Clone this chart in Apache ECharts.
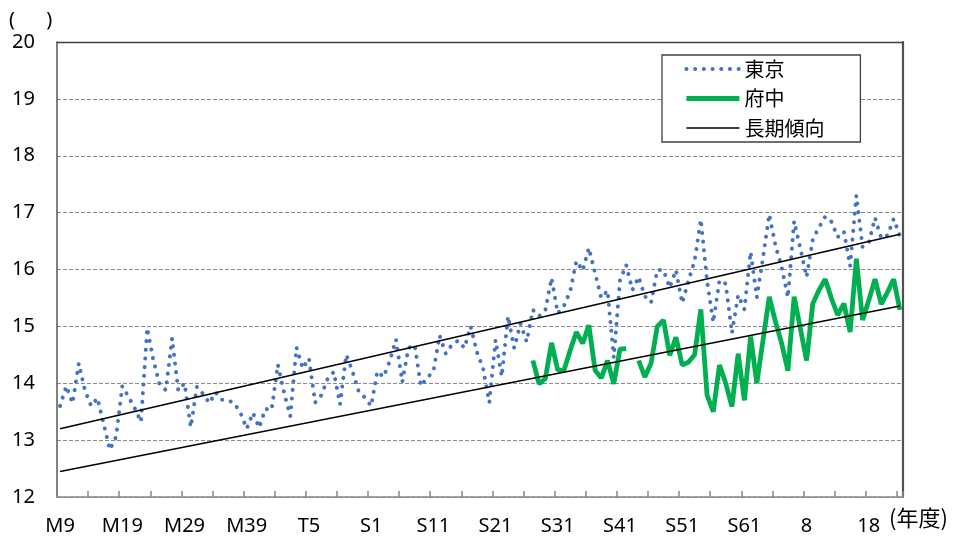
<!DOCTYPE html>
<html>
<head>
<meta charset="utf-8">
<script src="https://cdn.jsdelivr.net/npm/echarts@6/dist/echarts.min.js"></script>
<style>
  html, body { margin: 0; padding: 0; background: #fff; }
  #chart { width: 958px; height: 539px; }
</style>
</head>
<body>
<div id="chart"></div>
<script>
// ---- data ----
// fiscal years 1876 (M9) .. 2011 (H23)
const firstYear = 1876;
const lastYear = 2011;
const tickLabels = ['M9','M19','M29','M39','T5','S1','S11','S21','S31','S41','S51','S61','8','18'];

const tokyo = [
  13.6, 13.95, 13.65, 14.35, 13.87, 13.6, 13.74, 13.29, 12.83, 13.06,
  13.95, 13.76, 13.56, 13.32, 14.97, 14.4, 13.98, 13.88, 14.79, 13.87,
  14.0, 13.23, 13.94, 13.81, 13.65, 13.84, 13.71, 13.7, 13.65, 13.48,
  13.2, 13.48, 13.22, 13.55, 13.53, 14.33, 13.84, 13.42, 14.63, 14.26,
  14.44, 13.66, 13.79, 14.08, 14.2, 13.63, 14.5, 14.21, 13.85, 13.75,
  13.6, 14.21, 14.11, 14.39, 14.77, 14.02, 14.62, 14.67, 13.95, 14.1,
  14.2, 14.84, 14.52, 14.68, 14.75, 14.62, 15.0, 14.55, 14.26, 13.66,
  14.76, 14.12, 15.18, 14.62, 15.05, 14.73, 15.29, 15.18, 15.28, 15.85,
  15.23, 15.36, 15.62, 16.15, 15.98, 16.38, 15.94, 15.5, 15.63, 14.45,
  15.81, 16.08, 15.64, 15.87, 15.53, 15.42, 15.99, 15.99, 15.68, 15.99,
  15.41, 15.8, 16.15, 16.88, 15.8, 15.07, 15.81, 15.75, 14.88, 15.55,
  15.3, 16.31, 15.51, 16.21, 16.97, 16.42, 16.04, 15.51, 16.85, 16.37,
  15.87, 16.53, 16.74, 16.93, 16.84, 16.57, 16.67, 16.06, 17.3, 16.4,
  16.47, 16.91, 16.55, 16.6, 16.89, 16.59
];

// Fuchu starts in 1952 (index 76); 1968 missing
const fuchuStartIndex = 76;
const fuchuValues = [
  14.4, 13.99, 14.08, 14.71, 14.23, 14.23, 14.58, 14.9, 14.7, 15.02,
  14.23, 14.09, 14.4, 13.99, 14.6, 14.61, null, 14.4, 14.11, 14.35,
  15.0, 15.11, 14.49, 14.81, 14.32, 14.37, 14.5, 15.3, 13.79, 13.5,
  14.32, 14.0, 13.59, 14.52, 13.7, 14.82, 14.0, 14.76, 15.52, 15.08,
  14.7, 14.22, 15.52, 14.96, 14.4, 15.4, 15.64, 15.83, 15.49, 15.2,
  15.4, 14.9, 16.19, 15.11, 15.46, 15.83, 15.39, 15.6, 15.83, 15.29
];

// long-term trend lines: [value at first year, value at last year]
const trendTokyo = [13.2, 16.62];
const trendFuchu = [12.45, 15.36];

// ---- build ----
const years = [];
for (let y = firstYear; y <= lastYear; y++) years.push(String(y));
const lastIdx = years.length - 1;
const fuchu = years.map((_, i) => {
  const k = i - fuchuStartIndex;
  return (k >= 0 && k < fuchuValues.length) ? fuchuValues[k] : null;
});

const chart = echarts.init(document.getElementById('chart'), null, { renderer: 'canvas' });
const labelFont = 'Noto Sans';
const cjkFont = '"Noto Sans CJK JP"';

chart.setOption({
  animation: false,
  backgroundColor: '#ffffff',
  grid: { left: 57, right: 55, top: 42, bottom: 42, containLabel: false, outerBoundsMode: 'none' },
  xAxis: [{
    type: 'category',
    data: years,
    boundaryGap: true,
    axisLine: { show: true, lineStyle: { color: '#868686', width: 1.5 } },
    axisTick: { show: true, inside: true, length: 6, interval: 4, lineStyle: { color: '#868686', width: 1.5 } },
    axisLabel: {
      interval: 9, margin: 19, color: '#000', fontSize: 20, fontFamily: labelFont,
      formatter: (v, idx) => (idx % 10 === 0 ? (tickLabels[idx / 10] || '') : '')
    },
    splitLine: { show: false }
  }, {
    type: 'category',
    data: years,
    position: 'top',
    axisLine: { show: true, lineStyle: { color: '#404040', width: 1.3 } },
    axisTick: { show: false },
    axisLabel: { show: false },
    splitLine: { show: false }
  }],
  yAxis: [{
    type: 'value',
    min: 12, max: 20, interval: 1,
    axisLine: { show: true, lineStyle: { color: '#595959', width: 1.5 } },
    axisTick: { show: false },
    axisLabel: { margin: 22, color: '#000', fontSize: 20, fontFamily: labelFont },
    splitLine: { show: true, lineStyle: { color: '#8c8c8c', width: 1, type: [4, 2] } }
  }, {
    type: 'value',
    min: 12, max: 20, interval: 1,
    position: 'right',
    axisLine: { show: true, lineStyle: { color: '#505050', width: 2.2 } },
    axisTick: { show: false },
    axisLabel: { show: false },
    splitLine: { show: false }
  }],
  legend: {
    orient: 'vertical',
    left: 662, top: 55,
    padding: [4, 36, 4, 22],
    itemGap: 9.5,
    itemWidth: 53,
    itemHeight: 20,
    borderColor: '#404040',
    borderWidth: 1.3,
    backgroundColor: '#ffffff',
    textStyle: { fontSize: 20, fontFamily: cjkFont, color: '#000' },
    itemStyle: { opacity: 0 },
    lineStyle: { width: 'inherit' },
    data: ['東京', '府中', '長期傾向']
  },
  graphic: [
    { type: 'text', left: 9, top: 10, style: { text: '(      )', fontSize: 20, fontFamily: labelFont, fill: '#000' } },
    { type: 'text', left: 889, top: 507, style: { text: '(年度)', fontSize: 22, fontFamily: cjkFont, fill: '#000' } }
  ],
  series: [
    {
      name: '東京', type: 'line', data: tokyo, symbol: 'none', z: 2,
      lineStyle: { color: '#4472c4', width: 4, type: [0.1, 8.6], cap: 'round' },
      itemStyle: { color: '#4472c4' }
    },
    {
      name: '府中', type: 'line', data: fuchu, symbol: 'none', connectNulls: false, z: 3,
      lineStyle: { color: '#00b050', width: 4.8 },
      itemStyle: { color: '#00b050' }
    },
    {
      name: '長期傾向', type: 'line', symbol: 'none', z: 4,
      data: [[0, trendTokyo[0]], [lastIdx, trendTokyo[1]]],
      lineStyle: { color: '#000', width: 1.5 },
      itemStyle: { color: '#000' }
    },
    {
      name: '長期傾向', type: 'line', symbol: 'none', z: 4,
      data: [[0, trendFuchu[0]], [lastIdx, trendFuchu[1]]],
      lineStyle: { color: '#000', width: 1.5 },
      itemStyle: { color: '#000' }
    }
  ]
});
</script>
</body>
</html>
